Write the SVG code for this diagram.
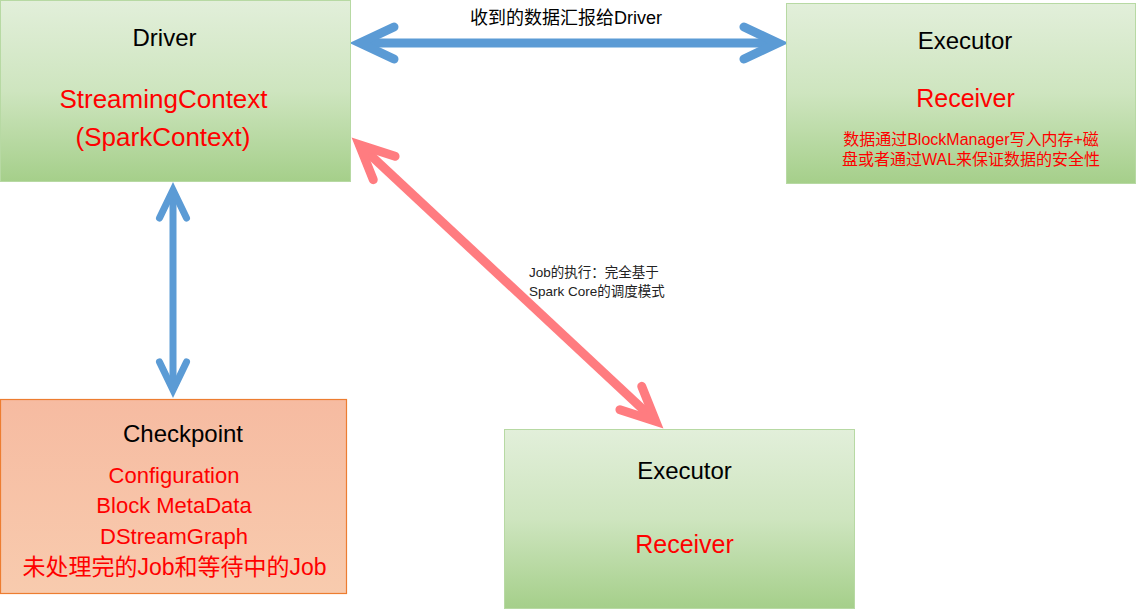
<svg xmlns="http://www.w3.org/2000/svg" width="1136" height="610" viewBox="0 0 1136 610">
<defs>
<linearGradient id="g" x1="0" y1="0" x2="0" y2="1">
<stop offset="0" stop-color="#E2EFDA"/>
<stop offset="0.5" stop-color="#CEE5BF"/>
<stop offset="1" stop-color="#A5CF8A"/>
</linearGradient>
<linearGradient id="o" x1="0" y1="0" x2="0" y2="1">
<stop offset="0" stop-color="#F6BBA1"/>
<stop offset="1" stop-color="#F8CBAE"/>
</linearGradient>
<marker id="mb" markerUnits="userSpaceOnUse" orient="auto-start-reverse" refX="0" refY="0" overflow="visible">
<path d="M -34 -16 L 0 0 L -34 16" fill="none" stroke="#5B9BD5" stroke-width="9" stroke-linecap="round"/>
</marker>
<marker id="mv" markerUnits="userSpaceOnUse" orient="auto-start-reverse" refX="0" refY="0" overflow="visible">
<path d="M -28 -13.5 L 0 0 L -28 13.5" fill="none" stroke="#5B9BD5" stroke-width="7" stroke-linecap="round"/>
</marker>
<marker id="mr" markerUnits="userSpaceOnUse" orient="auto-start-reverse" refX="0" refY="0" overflow="visible">
<path d="M -34 -16 L 0 0 L -34 16" fill="none" stroke="#FF7C80" stroke-width="9" stroke-linecap="round"/>
</marker>
</defs>
<style>
.box{fill:url(#g);stroke:#B7D9A3;stroke-width:1}
.cp{fill:url(#o);stroke:#ED7D31;stroke-width:1.2}
text{font-family:"Liberation Sans","Noto Sans CJK SC",sans-serif;text-anchor:middle}
.t{fill:#000;font-size:24px}
.r{fill:#FF0000}
.lbl{fill:#000;font-size:18px}
.sm{fill:#222;font-size:13.5px;text-anchor:start}
</style>
<g id="connectors">
<path d="M 360 43 L 778 43" stroke="#5B9BD5" stroke-width="9" fill="none" marker-start="url(#mb)" marker-end="url(#mb)"/>
<path d="M 173 190 L 173 390" stroke="#5B9BD5" stroke-width="7" fill="none" marker-start="url(#mv)" marker-end="url(#mv)"/>
<path d="M 359.3 144.8 L 655.7 421.2" stroke="#FF7C80" stroke-width="9" fill="none" marker-start="url(#mr)" marker-end="url(#mr)"/>
<text class="lbl" x="566" y="24">收到的数据汇报给Driver</text>
<text class="sm" x="529" y="277">Job的执行：完全基于</text>
<text class="sm" x="529" y="296">Spark Core的调度模式</text>
</g>
<g id="driver">
<rect class="box" x="0.5" y="0.5" width="350" height="181"/>
<text class="t" x="164.5" y="46">Driver</text>
<text class="r" x="163.5" y="108" font-size="26">StreamingContext</text>
<text class="r" x="163" y="146" font-size="26">(SparkContext)</text>
</g>
<g id="executor-top">
<rect class="box" x="786.5" y="3.5" width="349" height="180"/>
<text class="t" x="965" y="49">Executor</text>
<text class="r" x="965.5" y="107" font-size="25">Receiver</text>
<text class="r" x="971" y="145" font-size="16">数据通过BlockManager写入内存+磁</text>
<text class="r" x="971" y="165" font-size="16">盘或者通过WAL来保证数据的安全性</text>
</g>
<g id="checkpoint">
<rect class="cp" x="0.5" y="399.5" width="346" height="194"/>
<text class="t" x="183" y="442">Checkpoint</text>
<text class="r" x="174" y="483" font-size="22">Configuration</text>
<text class="r" x="174" y="513" font-size="22">Block MetaData</text>
<text class="r" x="174" y="544" font-size="22">DStreamGraph</text>
<text class="r" x="174.5" y="575" font-size="23">未处理完的Job和等待中的Job</text>
</g>
<g id="executor-bottom">
<rect class="box" x="504.5" y="429.5" width="350" height="179"/>
<text class="t" x="684.5" y="479">Executor</text>
<text class="r" x="684.5" y="553" font-size="25">Receiver</text>
</g>
</svg>
